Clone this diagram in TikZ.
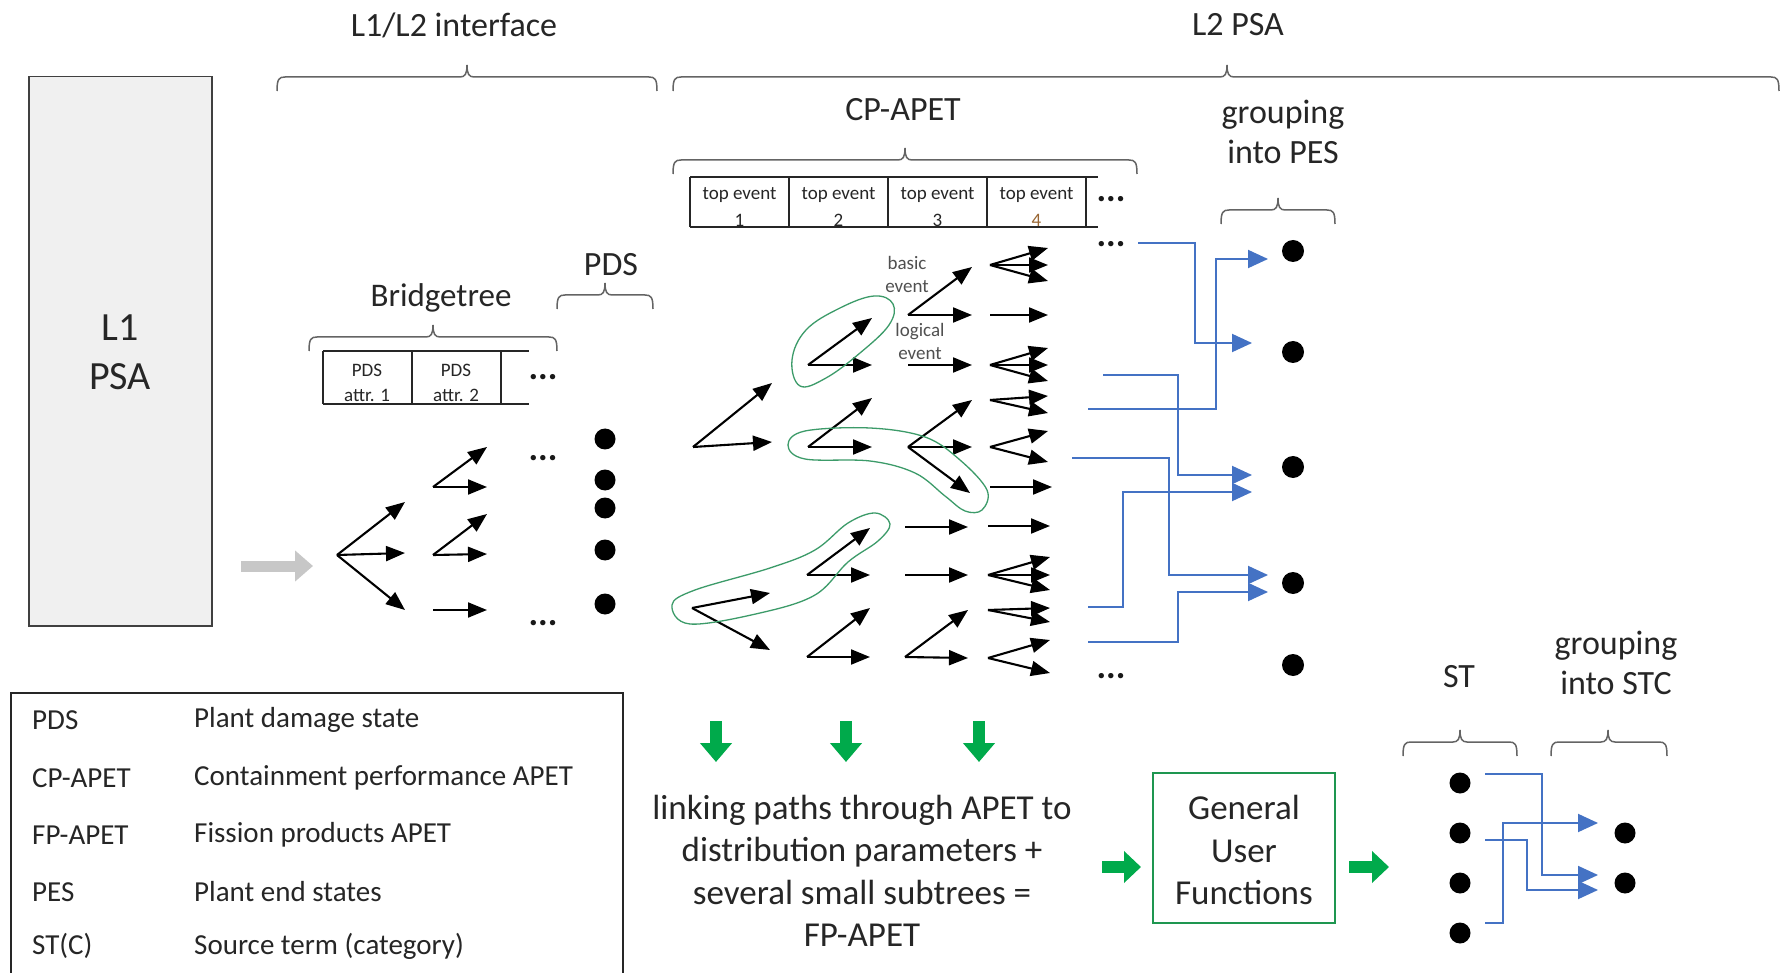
\documentclass[tikz,border=0pt]{standalone}
\usepackage{fontspec}
\setmainfont{Carlito}
\usetikzlibrary{arrows.meta}
\definecolor{gblue}{RGB}{68,114,196}
\definecolor{ggreen}{RGB}{0,170,75}
\definecolor{boxgreen}{RGB}{30,150,80}
\definecolor{loopgreen}{RGB}{60,155,105}
\definecolor{boxgray}{RGB}{240,240,240}
\definecolor{braceg}{RGB}{100,100,100}
\definecolor{txt}{RGB}{38,38,38}
\definecolor{smalltxt}{RGB}{80,80,80}
\newcommand\mybrace[4]{\draw[brc] (#1,#3+14) .. controls (#1,#3+2) and (#1+2,#3) .. (#1+8,#3) -- (#4-7,#3) .. controls (#4-2,#3) and (#4,#3-3) .. (#4,#3-12) .. controls (#4,#3-3) and (#4+2,#3) .. (#4+7,#3) -- (#2-8,#3) .. controls (#2-2,#3) and (#2,#3+2) .. (#2,#3+14);}
\begin{document}
\begin{tikzpicture}[x=1pt,y=-1pt,
  arr/.style={line width=2.1pt,-{Triangle[length=19pt,width=15pt]}},
  barr/.style={gblue,line width=1.9pt,-{Triangle[length=20pt,width=18pt]}},
  garr/.style={ggreen,line width=12pt,-{Triangle[length=19pt,width=31pt]}},
  grayarr/.style={black!22,line width=11pt,-{Triangle[length=18pt,width=30pt]}},
  brc/.style={braceg,line width=1.5pt},
  tbl/.style={black!85,line width=1.5pt},
  dot/.style={circle,fill=black,minimum size=21pt,inner sep=0pt},
  lp/.style={loopgreen,line width=1.3pt},
  hd/.style={font=\fontsize{34}{40}\selectfont,text=txt,align=center,inner sep=0pt},
  big/.style={font=\fontsize{35}{42.5}\selectfont,text=txt,align=center,inner sep=0pt},
  leg/.style={font=\fontsize{29}{34}\selectfont,text=txt,anchor=west,inner sep=0pt},
  sm/.style={font=\fontsize{19}{23}\selectfont,text=smalltxt,align=center,inner sep=0pt},
  dots/.style={font=\fontsize{36}{36}\bfseries\selectfont,text=black!90,inner sep=0pt}
]
\useasboundingbox (0,0) rectangle (1781,973);
\fill[white] (0,0) rectangle (1781,973);

% ---------- L1 PSA ----------
\node[draw=black!75,line width=1.5pt,fill=boxgray,minimum width=183pt,minimum height=549pt,inner sep=0pt,anchor=north west] (l1) at (28,76) {};
\node[hd,font=\fontsize{40}{49}\selectfont] (l1t) at (120,352) {L1\\PSA};

% ---------- top headings and braces ----------
\node[hd] (h1) at (454,25) {L1/L2 interface};
\mybrace{277}{657}{77}{467}
\node[hd] (h2) at (1238,25) {L2 PSA};
\mybrace{673}{1779}{77}{1227}

\node[hd] (cp) at (903,110) {CP-APET};
\mybrace{673}{1137}{160}{905}

\node[hd] (gpes) at (1283,132) {grouping\\into PES};
\mybrace{1221}{1335}{210}{1278}

\node[hd] (pdsl) at (611,265) {PDS};
\mybrace{557}{653}{295}{605}

\node[hd,font=\fontsize{33}{40}\selectfont] (bt) at (441,298) {Bridgetree};
\mybrace{309}{557}{337}{433}

% ---------- top event table ----------
\draw[tbl] (690,177) -- (1098,177);
\draw[tbl] (690,227) -- (1098,227);
\foreach \x in {690,789,888,987,1086} \draw[tbl] (\x,177) -- (\x,227);
\node[sm,text=txt] (te1) at (739.5,195) {top event};
\node[sm,text=txt] (te2) at (838.5,195) {top event};
\node[sm,text=txt] (te3) at (937.5,195) {top event};
\node[sm,text=txt] (te4) at (1036.5,195) {top event};
\node[sm,text=txt] (tn1) at (739.5,220) {1};
\node[sm,text=txt] (tn2) at (838.5,220) {2};
\node[sm,text=txt] (tn3) at (937.5,220) {3};
\node[sm,text=brown!80!black] (tn4) at (1036.5,220) {4};
\node[dots] (ted) at (1111,199) {...};

% ---------- Bridgetree table ----------
\draw[tbl] (323,351) -- (529,351);
\draw[tbl] (323,404) -- (529,404);
\foreach \x in {323,412,501} \draw[tbl] (\x,351) -- (\x,404);
\node[sm,text=txt] (pa1) at (367,370) {PDS};
\node[sm,text=txt] (pa1b) at (367,395) {attr. 1};
\node[sm,text=txt] (pa2) at (456,370) {PDS};
\node[sm,text=txt] (pa2b) at (456,395) {attr. 2};
\node[dots] (btd) at (543,377) {...};

% ---------- gray arrow ----------
\coordinate (ga1) at (241,566);
\coordinate (ga2) at (313,566);
\draw[grayarr] (ga1) -- (ga2);

% ---------- Bridgetree arrows ----------
\foreach \a/\b/\c/\d in {337/555/405/502, 337/555/405/553, 337/555/405/610,
  433/487/487/447, 433/487/487/487, 433/555/487/514, 433/555/487/554, 433/610/487/610}
  \draw[arr] (\a,\b) -- (\c,\d);
\node[dots] (bd1) at (543,458) {...};
\node[dots] (bd2) at (543,623) {...};

% PDS dots
\foreach \y [count=\i] in {439,480,508,550,604} \node[dot] (pds\i) at (605,\y) {};

% ---------- CP-APET tree ----------
\foreach \a/\b/\c/\d in {
  693/447/772/383, 693/447/772/442, 692/608/770/593, 692/608/770/650,
  808/365/872/318, 808/365/872/365, 808/447/872/398, 808/447/872/447,
  807/575/870/528, 807/575/870/575, 807/657/870/608, 807/657/870/657,
  908/315/972/267, 908/315/972/315, 908/365/972/365,
  908/447/972/400, 908/447/972/447, 908/447/970/493,
  905/527/968/527, 905/575/968/575, 905/657/968/610, 905/657/968/658,
  990/265/1048/248, 990/265/1048/265, 990/265/1048/281,
  990/315/1048/315,
  990/365/1048/348, 990/365/1048/365, 990/365/1048/381,
  990/400/1048/396, 990/400/1048/413,
  990/447/1048/431, 990/447/1048/462,
  990/487/1052/487, 988/526/1050/526,
  988/575/1050/557, 988/575/1050/575, 988/575/1050/590,
  988/610/1050/608, 988/610/1050/622,
  988/658/1050/640, 988/658/1050/673}
  \draw[arr] (\a,\b) -- (\c,\d);

\node[sm] (basic) at (907,274) {basic\\event};
\node[sm] (logic) at (920,341) {logical\\event};

\node[dots] (cd1) at (1111,244) {...};
\node[dots] (cd2) at (1111,676) {...};

% green loops
\draw[lp] plot[smooth cycle,tension=0.65] coordinates {(800,386) (792,360) (806,330) (840,308) (874,296) (893,304) (889,325) (860,353) (826,378)};
\draw[lp] plot[smooth cycle,tension=0.6] coordinates {(788,445) (805,431) (870,428) (925,437) (960,460) (987,490) (982,510) (965,511) (945,496) (915,473) (870,461) (805,459)};
\draw[lp] plot[smooth cycle,tension=0.6] coordinates {(672,605) (690,624) (760,613) (815,595) (848,562) (878,541) (890,524) (875,513) (848,523) (815,550) (770,568) (695,590)};

% ---------- PES dots and blue connectors ----------
\foreach \y [count=\i] in {251,352,467,583,665} \node[dot,minimum size=22pt] (pes\i) at (1293,\y) {};

\coordinate (b1s) at (1138,243); \coordinate (b1e) at (1252,343);
\coordinate (b2s) at (1088,409); \coordinate (b2e) at (1268,259);
\coordinate (b3s) at (1103,375); \coordinate (b3e) at (1252,475);
\coordinate (b4s) at (1088,607); \coordinate (b4e) at (1252,492);
\coordinate (b5s) at (1072,458); \coordinate (b5e) at (1268,575);
\coordinate (b6s) at (1088,642); \coordinate (b6e) at (1268,592);
\draw[barr] (b1s) -| (1195,300) |- (b1e);
\draw[barr] (b2s) -| (1216,330) |- (b2e);
\draw[barr] (b3s) -| (1178,420) |- (b3e);
\draw[barr] (b4s) -| (1123,550) |- (b4e);
\draw[barr] (b5s) -| (1169,520) |- (b5e);
\draw[barr] (b6s) -| (1178,620) |- (b6e);

% ---------- legend ----------
\draw[black!85,line width=1.5pt] (11,985) -- (11,693) -- (623,693) -- (623,985);
\foreach \ab/\de/\y [count=\i] in {PDS/Plant damage state/720, CP-APET/Containment performance APET/778,
  FP-APET/Fission products APET/835, PES/Plant end states/892, ST(C)/Source term (category)/946}
{
  \node[leg] (la\i) at (32,\y) {\ab};
  \node[leg] (ld\i) at (194,\y) {\de};
}

% ---------- lower flow ----------
\coordinate (gd1a) at (716,721); \coordinate (gd1b) at (716,762);
\coordinate (gd2a) at (846,721); \coordinate (gd2b) at (846,762);
\coordinate (gd3a) at (979,721); \coordinate (gd3b) at (979,762);
\draw[garr] (gd1a) -- (gd1b);
\draw[garr] (gd2a) -- (gd2b);
\draw[garr] (gd3a) -- (gd3b);

\node[big] (fp) at (862,871) {linking paths through APET to\\distribution parameters +\\several small subtrees =\\FP-APET};

\node[draw=boxgreen,line width=1.6pt,minimum width=182pt,minimum height=150pt,inner sep=0pt] (guf) at (1244,848) {};
\node[big] (guft) at (1244,850) {General\\User\\Functions};

\coordinate (gr1a) at (1102,867); \coordinate (gr1b) at (1141,867);
\draw[garr,-{Triangle[length=17pt,width=31pt]}] (gr1a) -- (gr1b);
\coordinate (gr2a) at (1349,867); \coordinate (gr2b) at (1389,867);
\draw[garr,-{Triangle[length=17pt,width=31pt]}] (gr2a) -- (gr2b);

% ST / STC
\node[hd] (st) at (1459,677) {ST};
\mybrace{1403}{1517}{742}{1460}
\node[hd] (gstc) at (1616,663) {grouping\\into STC};
\mybrace{1551}{1667}{742}{1608}

\foreach \y [count=\i] in {783,833,883,933} \node[dot] (st\i) at (1460,\y) {};
\foreach \y [count=\i] in {833,883} \node[dot] (stc\i) at (1625,\y) {};

\coordinate (s1s) at (1485,774); \coordinate (s1e) at (1598,875);
\coordinate (s2s) at (1485,840); \coordinate (s2e) at (1598,890);
\coordinate (s3s) at (1485,923); \coordinate (s3e) at (1598,823);
\draw[barr] (s1s) -| (1542,820) |- (s1e);
\draw[barr] (s2s) -| (1527,865) |- (s2e);
\draw[barr] (s3s) -| (1503,870) |- (s3e);
\end{tikzpicture}
\end{document}
